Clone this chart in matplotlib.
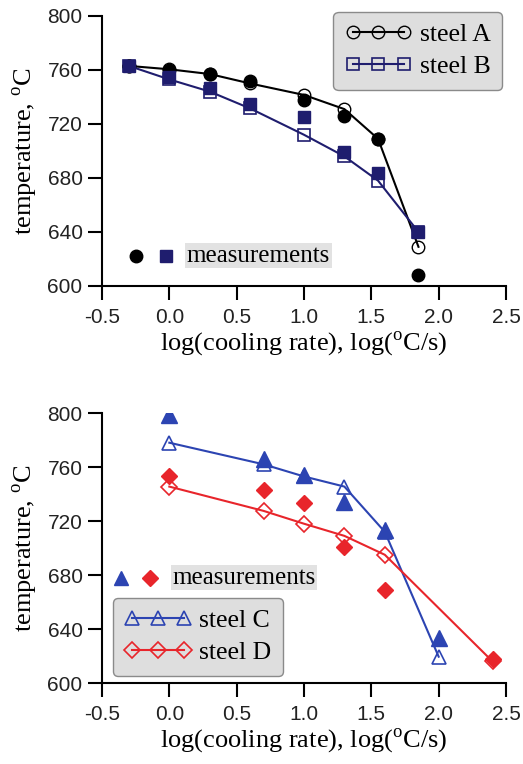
from matplotlib import pyplot as plt
import numpy as np

plt.rcParams['mathtext.fontset'] = 'custom'
plt.rcParams['mathtext.rm'] = 'Liberation Serif'

# top panel: steel A / steel B
log_rate_ab = [-0.3, 0.0, 0.3, 0.6, 1.0, 1.3, 1.55, 1.85]
model_a = [763, 760.5, 757, 750, 741.5, 731, 709, 629]
meas_a = [763, 760, 757, 752, 738, 726, 709, 608]
model_b = [763, 753, 744, 731.5, 712, 696, 678, 640]
meas_b = [763, 754.5, 747, 735, 725.5, 699.5, 684, 640]

# bottom panel: steel C / steel D
log_rate_c = [0.0, 0.7, 1.0, 1.3, 1.6, 2.0]
model_c = [778, 762, 753, 745.5, 712, 619.5]
meas_c = [798.5, 766, 754, 734, 713, 633]
log_rate_d = [0.0, 0.7, 1.0, 1.3, 1.6, 2.4]
model_d = [745.5, 727.5, 718, 709, 695, 616]
meas_d = [753, 743, 733, 701, 669, 617.5]

x_ticks = [-0.5, 0.0, 0.5, 1.0, 1.5, 2.0, 2.5]
y_ticks = [600, 640, 680, 720, 760, 800]

COL_A = 'black'
COL_B = '#1f1d6e'
COL_C = '#2c44b2'
COL_D = '#e8252b'

serif = 'Liberation Serif'
sans = 'Liberation Sans'

fig = plt.figure(figsize=(5.23, 7.64), dpi=100)
ax1 = fig.add_axes([0.195, 0.6257, 0.7725, 0.3534])
ax2 = fig.add_axes([0.195, 0.106, 0.7725, 0.3534])


def style_axes(ax):
    ax.set_xlim(-0.5, 2.5)
    ax.set_ylim(600, 800)
    ax.set_xticks(x_ticks)
    ax.set_xticklabels([f'{t:.1f}' for t in x_ticks])
    ax.set_yticks(y_ticks)
    for s in ['top', 'right']:
        ax.spines[s].set_visible(False)
    for s in ['left', 'bottom']:
        ax.spines[s].set_linewidth(1.5)
    ax.tick_params(direction='out', length=10, width=1.5, labelsize=15,
                   labelcolor='#222222')
    ax.tick_params(axis='x', pad=6)
    ax.tick_params(axis='y', pad=4)
    for lab in ax.get_xticklabels() + ax.get_yticklabels():
        lab.set_fontfamily(sans)
    ax.set_xlabel(r'log(cooling rate), log($^{\rm o}$C/s)', fontfamily=serif,
                  fontsize=19, labelpad=1)
    ax.set_ylabel(r'temperature, $^{\rm o}$C', fontfamily=serif,
                  fontsize=19, labelpad=5)


def meas_note(ax, x0, x1, xt, y, m0, c0, m1, c1, ms0, ms1):
    ax.plot([x0], [y], marker=m0, color=c0, ms=ms0, ls='none',
            transform=ax.transAxes, clip_on=False)
    ax.plot([x1], [y], marker=m1, color=c1, ms=ms1, ls='none',
            transform=ax.transAxes, clip_on=False)
    ax.text(xt, y, 'measurements', transform=ax.transAxes, fontfamily=serif,
            fontsize=18, va='center', ha='left',
            bbox=dict(facecolor='#e2e2e2', edgecolor='none', pad=1.0))


def add_legend(ax, loc, anchor):
    leg = ax.legend(loc=loc, bbox_to_anchor=anchor, numpoints=3,
                    handlelength=2.6, handletextpad=0.3, fancybox=True,
                    framealpha=1, facecolor='#dedede', edgecolor='#8a8a8a',
                    borderpad=0.45, labelspacing=0.35, borderaxespad=0,
                    prop={'family': serif, 'size': 18.5})
    leg.get_frame().set_linewidth(1.0)
    return leg


# ---- top panel
ax1.plot(log_rate_ab, model_a, '-o', color=COL_A, mfc='none', ms=9, mew=1.0,
         lw=1.5, label='steel A')
ax1.plot(log_rate_ab, model_b, '-s', color=COL_B, mfc='none', ms=9, mew=1.2,
         lw=1.5, label='steel B')
ax1.plot(log_rate_ab, meas_a, 'o', color=COL_A, ms=9, ls='none')
ax1.plot(log_rate_ab, meas_b, 's', color=COL_B, ms=8, ls='none')
style_axes(ax1)
add_legend(ax1, 'upper right', (0.99, 1.015))
meas_note(ax1, 0.084, 0.158, 0.210, 0.111, 'o', COL_A, 's', COL_B, 9, 8)

# ---- bottom panel
ax2.plot(log_rate_c, model_c, '-^', color=COL_C, mfc='none', ms=10, mew=1.2,
         lw=1.5, label='steel C')
ax2.plot(log_rate_d, model_d, '-D', color=COL_D, mfc='none', ms=8, mew=1.2,
         lw=1.5, label='steel D')
ax2.plot(log_rate_c, meas_c, '^', color=COL_C, ms=11, ls='none')
ax2.plot(log_rate_d, meas_d, 'D', color=COL_D, ms=8, ls='none')
style_axes(ax2)
add_legend(ax2, 'lower left', (0.027, 0.026))
meas_note(ax2, 0.047, 0.118, 0.175, 0.389, '^', COL_C, 'D', COL_D, 10, 8)

fig.savefig('out.png', dpi=100)
